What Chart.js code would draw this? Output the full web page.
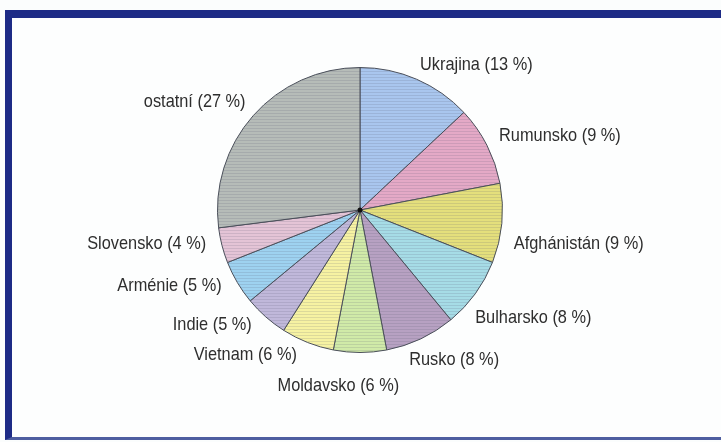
<!DOCTYPE html>
<html>
<head>
<meta charset="utf-8">
<script src="https://cdn.jsdelivr.net/npm/chart.js@4.4.0/dist/chart.umd.min.js"></script>
<style>
  html, body { margin: 0; padding: 0; background: #fbfdfd; }
  #wrap { position: relative; width: 721px; height: 442px; overflow: hidden; }
  #frame {
    position: absolute; left: 5px; top: 10px; width: 740px; height: 419px;
    border-left: 7px solid #1d2b86; border-top: 8px solid #1d2b86;
    border-bottom: 3px solid #4e5ea0; background: #fdfefe;
  }
  #c { position: absolute; left: 0; top: 0; }
</style>
</head>
<body>
<div id="wrap">
  <div id="frame"></div>
  <canvas id="c" width="721" height="442"></canvas>
</div>
<script>
// zeme a podily (%) - po smeru hodinovych rucicek od vrcholu
const zeme = ['Ukrajina', 'Rumunsko', 'Afghánistán', 'Bulharsko', 'Rusko', 'Moldavsko',
              'Vietnam', 'Indie', 'Arménie', 'Slovensko', 'ostatní'];
const podily = [13, 9, 9, 8, 8, 6, 6, 5, 5, 4, 27];
const barvy = ['#a9c6ee', '#e4a9c6', '#e4df7c', '#a6dce6', '#b7a1c2', '#d0eaa8',
               '#f6f2a2', '#c0b8da', '#9ed2f0', '#e4c4d6', '#b6bcb8'];

// jemne srafovani jako ve skenu
function srafa(barva) {
    const p = document.createElement('canvas');
    p.width = 8; p.height = 3;
    const g = p.getContext('2d');
    g.fillStyle = barva;
    g.fillRect(0, 0, 8, 3);
    g.fillStyle = 'rgba(90, 90, 110, 0.16)';
    g.fillRect(0, 2, 8, 1);
    return g.createPattern(p, 'repeat');
}

const popisky = {
    id: 'popisky',
    afterDatasetsDraw(chart) {
        const ctx = chart.ctx;
        const meta = chart.getDatasetMeta(0);
        const sx = 0.86; // uzsi pismo jako Arial Narrow
        ctx.save();
        ctx.font = '19px "Liberation Sans", Arial, sans-serif';
        ctx.fillStyle = '#2e2e2e';
        ctx.textBaseline = 'middle';
        meta.data.forEach((arc, i) => {
            let mid = (arc.startAngle + arc.endAngle) / 2;
            const c0 = Math.cos(mid), s0 = Math.sin(mid);
            // popisky dole vpravo jsou v originale posunute po smeru
            const posun = (c0 > -0.3 && s0 > -0.1) ? 7 : (c0 > 0 ? -1 : 2);
            mid += posun * Math.PI / 180;
            const c = Math.cos(mid);
            const zarovnani = c > 0.2 ? 'left' : (c < -0.2 ? 'right' : 'center');
            const r = arc.outerRadius + 15 + (zarovnani === 'center' ? 20 : 0);
            const x = arc.x + c * r;
            const y = arc.y + Math.sin(mid) * r;
            const text = zeme[i] + ' (' + podily[i] + ' %)';
            const w = ctx.measureText(text).width;
            ctx.save();
            ctx.translate(x, y);
            ctx.scale(sx, 1);
            ctx.textAlign = 'left';
            const dx = zarovnani === 'left' ? 0 : (zarovnani === 'right' ? -w : -w / 2);
            ctx.fillText(text, dx, 0);
            ctx.restore();
        });
        // stred
        ctx.beginPath();
        ctx.arc(meta.data[0].x, meta.data[0].y, 2.5, 0, Math.PI * 2);
        ctx.fillStyle = '#111';
        ctx.fill();
        ctx.restore();
    }
};

new Chart(document.getElementById('c'), {
    type: 'pie',
    data: {
        labels: zeme,
        datasets: [{
            data: podily,
            backgroundColor: barvy.map(srafa),
            borderColor: '#4a4f5a',
            borderWidth: 1
        }]
    },
    options: {
        responsive: false,
        animation: false,
        layout: { padding: { left: 217, right: 218, top: 67, bottom: 89 } },
        plugins: {
            legend: { display: false },
            tooltip: { enabled: false }
        }
    },
    plugins: [popisky]
});
</script>
</body>
</html>
